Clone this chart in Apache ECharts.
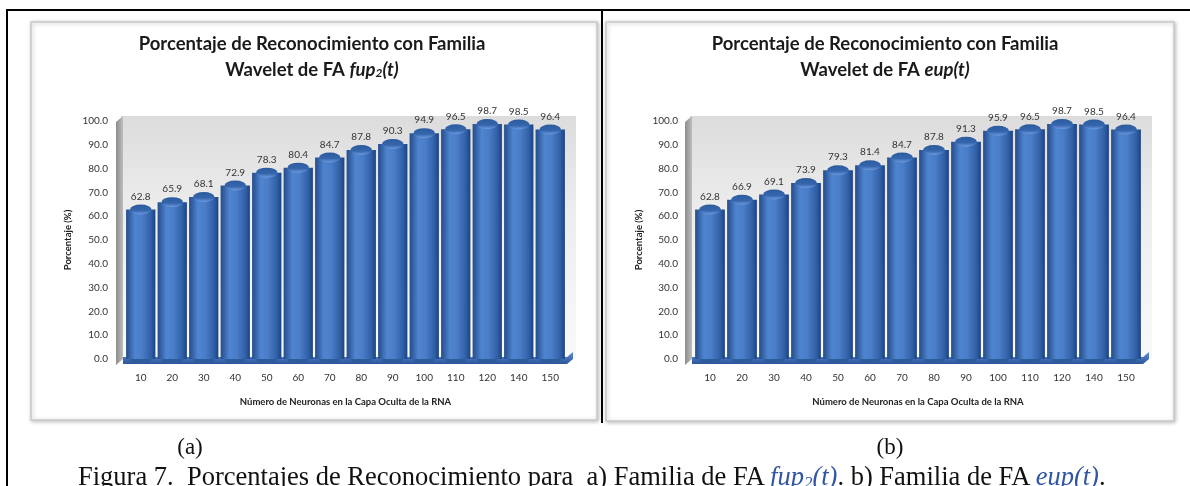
<!DOCTYPE html>
<html>
<head>
<meta charset="utf-8">
<script src="https://cdn.jsdelivr.net/npm/echarts@6/dist/echarts.min.js"></script>
<style>
  html, body { margin: 0; padding: 0; background: #fff; }
  #wrap { position: relative; width: 1190px; height: 486px; overflow: hidden; }
  #chart { position: absolute; left: 0; top: 0; width: 1190px; height: 486px; }
  .frame-top { position: absolute; left: 7px; top: 9px; width: 1190px; height: 2px; background: #000; }
  .frame-left { position: absolute; left: 6px; top: 9px; width: 2px; height: 480px; background: #000; }
  .divider { position: absolute; left: 601px; top: 9px; width: 2px; height: 414px; background: #000; }
  .sub { position: absolute; top: 434px; font-family: "Liberation Serif", "DejaVu Serif", serif; font-size: 23px; line-height: 26px; color: #111; transform: translateX(-50%); }
  .caption { position: absolute; left: 78px; top: 461px; font-family: "Liberation Serif", "DejaVu Serif", serif; font-size: 26.5px; line-height: 30px; color: #111; white-space: nowrap; }
  .caption i { color: #2f55a4; }
  .caption sub { font-size: 17px; vertical-align: -3px; line-height: 0; }
</style>
</head>
<body>
<div id="wrap">
  <div id="chart"></div>
  <div class="frame-top"></div>
  <div class="frame-left"></div>
  <div class="divider"></div>
  <div class="sub" style="left:190px">(a)</div>
  <div class="sub" style="left:890px">(b)</div>
  <div class="caption">Figura 7.&nbsp; Porcentajes de Reconocimiento para &nbsp;a) Familia de FA <i>fup<sub>2</sub>(t)</i>. b) Familia de FA <i>eup(t)</i>.</div>
</div>
<script>
// Hidden-layer neuron counts (categories)
const neuronas = ['10', '20', '30', '40', '50', '60', '70', '80', '90', '100', '110', '120', '140', '150'];
// Recognition percentages, wavelet family fup2(t)
const fup2Valores = [62.8, 65.9, 68.1, 72.9, 78.3, 80.4, 84.7, 87.8, 90.3, 94.9, 96.5, 98.7, 98.5, 96.4];
// Recognition percentages, wavelet family eup(t)
const eupValores = [62.8, 66.9, 69.1, 73.9, 79.3, 81.4, 84.7, 87.8, 91.3, 95.9, 96.5, 98.7, 98.5, 96.4];
// Y axis ticks
const yMin = 0, yMax = 100, yStep = 10;

const chart = echarts.init(document.getElementById('chart'));

const titleFont = 'Lato, "Noto Sans", sans-serif';
const axisFont = 'Lato, "Noto Sans", sans-serif';

const plotTop = 121, plotBottom = 359;
const grids = [
  { left: 125, right: 1190 - 566, top: plotTop, bottom: 486 - plotBottom },
  { left: 694, right: 1190 - 1142, top: plotTop, bottom: 486 - plotBottom }
];

const bodyGradient = new echarts.graphic.LinearGradient(0, 0, 1, 0, [
  { offset: 0, color: '#244c8a' },
  { offset: 0.3, color: '#4f84d0' },
  { offset: 0.55, color: '#4a7dc7' },
  { offset: 0.85, color: '#2f5fa6' },
  { offset: 1, color: '#1d4280' }
]);
const capGradient = new echarts.graphic.LinearGradient(0, 0, 0, 1, [
  { offset: 0, color: '#2c5b9e' },
  { offset: 0.6, color: '#3566ad' },
  { offset: 1, color: '#6f9be0' }
]);

function makeTitle(center, rich) {
  return {
    left: center, top: 26, textAlign: 'center',
    text: rich,
    textStyle: {
      fontFamily: titleFont, fontWeight: 'bold', fontSize: 18.5, color: '#1a1a1a', lineHeight: 26,
      rich: {
        i: { fontFamily: titleFont, fontWeight: 'bold', fontStyle: 'italic', fontSize: 18.5, color: '#1a1a1a' },
        s: { fontFamily: titleFont, fontWeight: 'bold', fontStyle: 'italic', fontSize: 12, color: '#1a1a1a', padding: [6, 0, 0, 0] }
      }
    }
  };
}

function xAxisFor(i) {
  return {
    type: 'category', gridIndex: i, data: neuronas,
    axisLine: { show: false }, axisTick: { show: false },
    axisLabel: { fontFamily: axisFont, fontSize: 10, color: '#333', margin: 14 },
    name: 'Número de Neuronas en la Capa Oculta de la RNA',
    nameLocation: 'middle', nameGap: 38,
    nameTextStyle: { fontFamily: axisFont, fontSize: 9.5, fontWeight: 'bold', color: '#222' }
  };
}
function yAxisFor(i, margin, gap) {
  return {
    type: 'value', gridIndex: i, min: yMin, max: yMax, interval: yStep,
    axisLine: { show: false }, axisTick: { show: false },
    splitLine: { show: false },
    axisLabel: { fontFamily: axisFont, fontSize: 10, color: '#333', margin,
      formatter: v => v.toFixed(1) },
    name: 'Porcentaje (%)', nameLocation: 'middle', nameGap: gap, nameRotate: 90,
    nameTextStyle: { fontFamily: axisFont, fontSize: 9.5, fontWeight: 'bold', color: '#222' }
  };
}

function seriesFor(i, values) {
  return [
    {
      type: 'bar', xAxisIndex: i, yAxisIndex: i, data: values,
      barCategoryGap: '7%',
      itemStyle: { color: bodyGradient },
      label: { show: true, position: 'top', distance: 8, fontFamily: axisFont, fontSize: 10, color: '#333',
        formatter: p => p.value.toFixed(1) },
      z: 2
    },
    {
      type: 'pictorialBar', xAxisIndex: i, yAxisIndex: i, data: values,
      symbol: 'circle', symbolSize: ['93%', 10], symbolPosition: 'end', symbolOffset: [0, '-50%'],
      itemStyle: { color: capGradient }, z: 4, silent: true
    },
    {
      type: 'pictorialBar', xAxisIndex: i, yAxisIndex: i, data: values,
      symbol: 'circle', symbolSize: ['93%', 10], symbolPosition: 'start', symbolOffset: [0, '50%'],
      itemStyle: { color: '#2d5b9c' }, z: 1, silent: true
    }
  ];
}

// Chart panels, back walls, side walls and floors
function panel(x, y, w, h) {
  return {
    type: 'rect', shape: { x, y, width: w, height: h }, z: -10,
    style: { fill: '#fff', stroke: '#c9c9c9', lineWidth: 1.5, shadowBlur: 4, shadowColor: 'rgba(0,0,0,0.25)', shadowOffsetX: 1, shadowOffsetY: 1 }
  };
}
function wall(x, y, w, h) {
  return {
    type: 'rect', shape: { x, y, width: w, height: h }, z: -9,
    style: { fill: new echarts.graphic.LinearGradient(0, 0, 0, 1, [
      { offset: 0, color: '#dcdcdc' }, { offset: 0.4, color: '#ededed' }, { offset: 1, color: '#f9f9f9' }]) }
  };
}
function side(x, y, w, h) {
  return {
    type: 'polygon', z: -8,
    shape: { points: [[x, y + 6], [x + w, y], [x + w, y + h], [x, y + h + 6]] },
    style: { fill: new echarts.graphic.LinearGradient(0, 0, 1, 0, [
      { offset: 0, color: '#8c8c8c' }, { offset: 1, color: '#bdbdbd' }]) }
  };
}
function floor(x, y, w) {
  return {
    type: 'polygon', z: -7,
    shape: { points: [[x, y], [x + w, y], [x + w + 6, y - 5], [x + w + 6, y + 2], [x + w, y + 7], [x, y + 7]] },
    style: { fill: new echarts.graphic.LinearGradient(0, 0, 0, 1, [
      { offset: 0, color: '#5f8fd6' }, { offset: 1, color: '#2a569a' }]) }
  };
}

chart.setOption({
  animation: false,
  title: [
    makeTitle(307, 'Porcentaje de Reconocimiento con Familia\nWavelet de FA {i|fup}{s|2}{i|(t)}'),
    makeTitle(880, 'Porcentaje de Reconocimiento con Familia\nWavelet de FA {i|eup(t)}')
  ],
  graphic: [
    panel(31, 22, 566, 398),
    panel(606, 22, 568, 399),
    wall(121, 116, 455, 243),
    wall(690, 116, 462, 243),
    side(116, 116, 7, 243),
    side(685, 116, 7, 243),
    floor(123, 357, 444),
    floor(692, 357, 451)
  ],
  grid: grids,
  xAxis: [xAxisFor(0), xAxisFor(1)],
  yAxis: [yAxisFor(0, 17, 52), yAxisFor(1, 16, 50)],
  series: [...seriesFor(0, fup2Valores), ...seriesFor(1, eupValores)]
});
</script>
</body>
</html>
